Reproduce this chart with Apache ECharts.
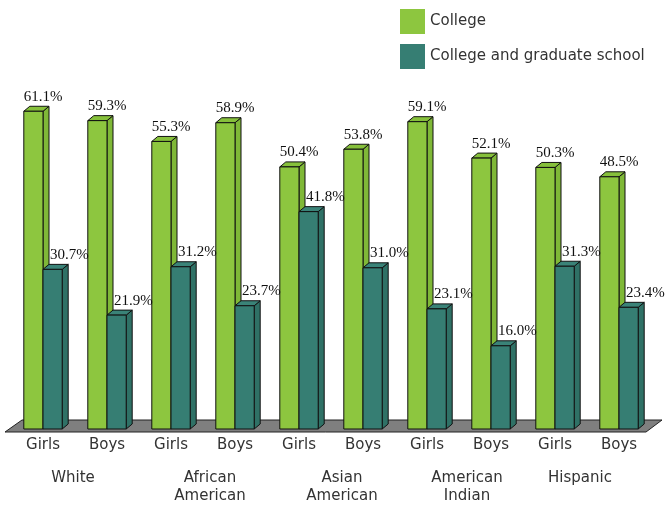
<!DOCTYPE html>
<html>
<head>
<meta charset="utf-8">
<script src="https://cdn.jsdelivr.net/npm/echarts@6/dist/echarts.min.js"></script>
<style>html,body{margin:0;padding:0;background:#fff;}#c{width:666px;height:506px;}</style>
</head>
<body>
<div id="c"></div>
<script>
const subCategories = ['Girls','Boys','Girls','Boys','Girls','Boys','Girls','Boys','Girls','Boys'];
const groupLabels = ['White','African\nAmerican','Asian\nAmerican','American\nIndian','Hispanic'];
const collegeValues = [61.1, 59.3, 55.3, 58.9, 50.4, 53.8, 59.1, 52.1, 50.3, 48.5];
const gradValues = [30.7, 21.9, 31.2, 23.7, 41.8, 31.0, 23.1, 16.0, 31.3, 23.4];
const seriesNames = ['College', 'College and graduate school'];

const GREEN = '#8dc63f', GREEN_SIDE = '#7fb837', GREEN_TOP = '#86c03b';
const TEAL = '#367e73', TEAL_SIDE = '#2f7166', TEAL_TOP = '#3a8378';

// horizontal nudges (px) of group labels, as in the reference layout
const groupNudge = [-2, 7, 11, 8, -7];
const groupRich = {};
groupNudge.forEach((n, k) => {
  groupRich['g' + k] = {
    fontSize: 15, lineHeight: 18, color: '#333', fontFamily: 'DejaVu Sans',
    padding: n >= 0 ? [0, 0, 0, 2 * n] : [0, -2 * n, 0, 0]
  };
});

function make3D(isLeft, front, sideC, topC, labelDx) {
  return function (params, api) {
    const i = api.value(0), v = api.value(1);
    const top = api.coord([i, v]);
    const base = api.coord([i, 0]);
    const band = api.size([1, 0])[0];
    const W = band * 0.3, DX = 6, DY = 5;
    const x0 = isLeft ? top[0] - W : top[0];
    const x1 = x0 + W;
    const yt = top[1], yb = base[1];
    const stroke = { stroke: '#111', lineWidth: 1, lineJoin: 'round' };
    return {
      type: 'group',
      children: [
        { type: 'polygon', shape: { points: [[x1, yt], [x1 + DX, yt - DY], [x1 + DX, yb - DY], [x1, yb]] },
          style: Object.assign({ fill: sideC }, stroke) },
        { type: 'polygon', shape: { points: [[x0, yt], [x0 + DX, yt - DY], [x1 + DX, yt - DY], [x1, yt]] },
          style: Object.assign({ fill: topC }, stroke) },
        { type: 'rect', shape: { x: x0, y: yt, width: W, height: yb - yt },
          style: Object.assign({ fill: front }, stroke) },
        { type: 'text', style: { text: v.toFixed(1) + '%', x: x0 + labelDx, y: yt - DY - 2,
            align: 'left', verticalAlign: 'bottom', font: '15px "Liberation Serif"', fill: '#111' } }
      ]
    };
  };
}

function floorRender(params, api) {
  const cs = params.coordSys;
  const base = api.coord([0, 0])[1];
  const x0 = cs.x, x1 = cs.x + cs.width;
  return {
    type: 'polygon',
    shape: { points: [[x0 - 6, base + 3], [x0 + 11, base - 9], [x1 + 11, base - 9], [x1 - 5, base + 3]] },
    style: { fill: '#7f7f7f', stroke: '#222', lineWidth: 1 }
  };
}

const chart = echarts.init(document.getElementById('c'), null, { renderer: 'canvas' });
chart.setOption({
  animation: false,
  backgroundColor: '#fff',
  textStyle: { fontFamily: 'DejaVu Sans' },
  legend: {
    data: seriesNames,
    orient: 'vertical',
    left: 400, top: 9, padding: 0,
    itemWidth: 25, itemHeight: 25, itemGap: 10,
    icon: 'rect',
    textStyle: { fontSize: 15, color: '#333', fontFamily: 'DejaVu Sans' }
  },
  grid: { left: 11, right: 15, top: 65, bottom: 77, containLabel: false },
  xAxis: [
    { type: 'category', data: subCategories, position: 'bottom', offset: 0,
      axisLine: { show: false }, axisTick: { show: false },
      axisLabel: { interval: 0, margin: 9, fontSize: 15, color: '#333', fontFamily: 'DejaVu Sans' } },
    { type: 'category', data: groupLabels, position: 'bottom', offset: 0,
      axisLine: { show: false }, axisTick: { show: false },
      axisLabel: { interval: 0, hideOverlap: false, margin: 40, fontSize: 15, lineHeight: 18, color: '#333', fontFamily: 'DejaVu Sans',
        formatter: (val, idx) => val.split('\n').map(l => '{g' + idx + '|' + l + '}').join('\n'),
        rich: groupRich } }
  ],
  yAxis: { type: 'value', min: 0, max: 70, show: false, splitLine: { show: false } },
  series: [
    { name: 'floor', type: 'custom', xAxisIndex: 0, z: 1, data: [[0, 0]], renderItem: floorRender, silent: true },
    { name: seriesNames[0], type: 'custom', xAxisIndex: 0, z: 2, itemStyle: { color: GREEN },
      data: collegeValues.map((v, i) => [i, v]), renderItem: make3D(true, GREEN, GREEN_SIDE, GREEN_TOP, 0) },
    { name: seriesNames[1], type: 'custom', xAxisIndex: 0, z: 3, itemStyle: { color: TEAL },
      data: gradValues.map((v, i) => [i, v]), renderItem: make3D(false, TEAL, TEAL_SIDE, TEAL_TOP, 7) }
  ]
});
</script>
</body>
</html>
